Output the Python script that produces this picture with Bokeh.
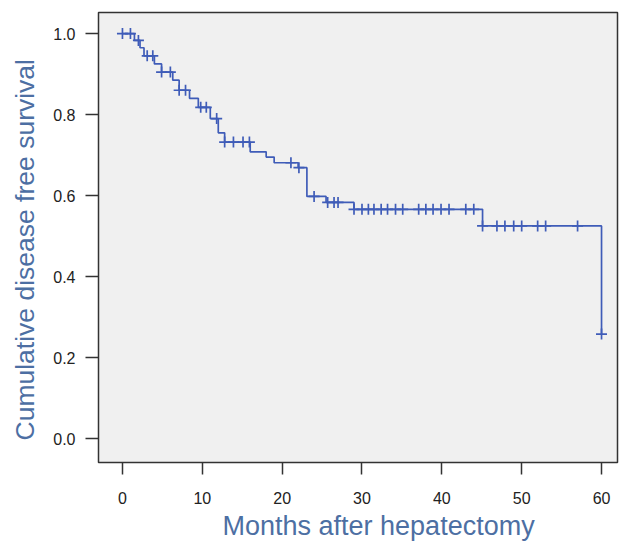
from bokeh.plotting import figure
from bokeh.models import Range1d, FixedTicker, CustomJSTickFormatter, Title
from bokeh.embed import file_html
from bokeh.resources import INLINE

# Kaplan-Meier event times (months) and survival after each event
event_times = [1.5, 2.2, 2.7, 4.0, 4.9, 6.3, 7.1, 8.4, 9.5, 11.0, 12.0, 12.8,
               16.0, 18.0, 19.0, 22.0, 23.1, 25.5, 29.0, 45.1, 60.0]
event_surv = [0.983, 0.965, 0.945, 0.925, 0.905, 0.885, 0.86, 0.84, 0.818, 0.79,
              0.755, 0.732, 0.708, 0.695, 0.681, 0.669, 0.598, 0.583, 0.566,
              0.525, 0.258]

# censored observation times (months)
censor_times = [0, 1, 2, 3.1, 3.8, 4.9, 6, 7.1, 7.9, 9.8, 10.5, 11.8, 12.8, 13.9,
                15.1, 15.9, 21.1, 22.1, 24, 25.7, 26.5, 27, 29, 30, 30.8, 31.5,
                32.4, 33.2, 34.2, 35.1, 37.1, 38, 38.9, 39.9, 40.9, 43, 44, 45.1,
                46.9, 47.9, 49, 50, 52, 53, 57, 60]

x_ticks = [0, 10, 20, 30, 40, 50, 60]
y_ticks = [0.0, 0.2, 0.4, 0.6, 0.8, 1.0]

x_title = "Months after hepatectomy"
y_title = "Cumulative disease free survival"

step_x = [0.0] + event_times
step_y = [1.0] + event_surv


def surv_at(t):
    s = 1.0
    for et, es in zip(event_times, event_surv):
        if et <= t:
            s = es
    return s


censor_y = [surv_at(t) for t in censor_times]

line_color = "#3f5cb8"
title_color = "#4d6fa3"

p = figure(width=620, height=543, output_backend="svg", toolbar_location=None,
           x_range=Range1d(-3, 62), y_range=Range1d(-0.059, 1.052),
           min_border_left=97, min_border_right=3, min_border_top=12,
           min_border_bottom=81)

p.background_fill_color = "#f0f0f0"
p.border_fill_color = "white"
p.outline_line_color = "#333333"
p.outline_line_width = 1.5
p.grid.visible = False

p.step(step_x, step_y, mode="after", line_color=line_color, line_width=1.7)
p.scatter(censor_times, censor_y, marker="cross", size=11, line_color=line_color,
          line_width=1.7)

for ax in (p.xaxis[0], p.yaxis[0]):
    ax.axis_line_color = None
    ax.major_tick_in = 0
    ax.major_tick_line_color = "#333333"
    ax.major_tick_line_width = 1.5
    ax.minor_tick_line_color = None
    ax.major_label_text_font = "Liberation Sans"
    ax.major_label_text_font_size = "16px"
    ax.major_label_text_color = "#222222"

p.xaxis.ticker = FixedTicker(ticks=x_ticks)
p.yaxis.ticker = FixedTicker(ticks=y_ticks)
p.yaxis.formatter = CustomJSTickFormatter(code="return tick.toFixed(1);")

p.xaxis.major_tick_out = 12
p.yaxis.major_tick_out = 13
p.xaxis.major_label_standoff = 17
p.yaxis.major_label_standoff = 10

# axis titles, offset along the frame as in the reference
p.add_layout(Title(text=x_title, align="left", offset=124, standoff=4,
                   text_font="Liberation Sans", text_font_size="27px",
                   text_font_style="normal", text_color=title_color), "below")
p.add_layout(Title(text=y_title, align="left", offset=22, standoff=18,
                   vertical_align="top",
                   text_font="Liberation Sans", text_font_size="26.5px",
                   text_font_style="normal", text_color=title_color), "left")

open("out.html", "w").write(file_html(p, INLINE))
